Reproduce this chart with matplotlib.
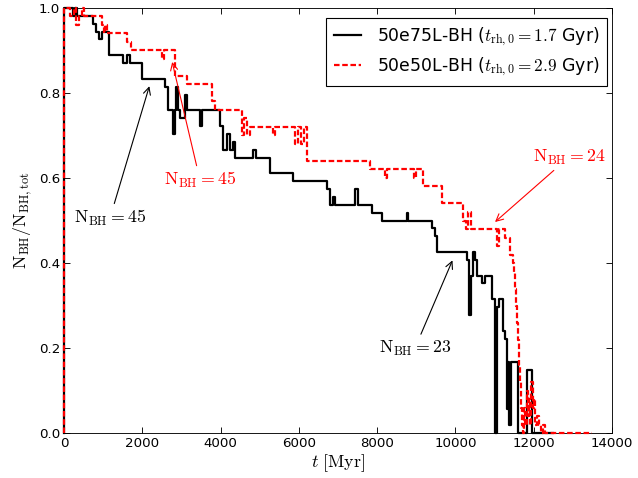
import matplotlib
matplotlib.use("Agg")
import matplotlib.pyplot as plt

# black-hole counts (step data)
t_75 = [0, 5, 230, 270, 320, 750, 818, 903, 963, 1158, 1516, 1610, 1686, 1985,
        2580, 2657, 2785, 2840, 2862, 2900, 2964, 3091, 3130, 3475, 3520, 3986,
        4062, 4164, 4241, 4318, 4369, 4829, 4905, 5263, 5851, 6720, 6796, 6873,
        6924, 7435, 7512, 7869, 8125, 8763, 8800, 9402, 9479, 9530, 10296, 10360,
        10399, 10450, 10500, 10552, 10680, 10760, 10935, 11012, 11055, 11114,
        11216, 11267, 11310, 11336, 11378, 11412, 11607, 11822, 11950, 12500]
n_75 = [0, 54, 53, 54, 53, 52, 51, 50, 51, 48, 47, 48, 47, 45,
        44, 41, 38, 41, 44, 41, 40, 43, 41, 39, 41, 39,
        36, 38, 36, 37, 35, 36, 35, 33, 32, 31, 29, 30,
        29, 31, 29, 28, 27, 28, 27, 26, 25, 23, 22, 15,
        20, 23, 22, 20, 19, 20, 17, 0, 16, 17,
        13, 12, 3, 9, 1, 9, 0, 8, 0, 0]
ntot_75 = 54

t_50 = [0, 5, 150, 250, 300, 380, 460, 520, 971, 1010, 1048, 1090, 1610, 1700,
        2504, 2555, 2836, 3134, 3773, 3870, 4548, 4600, 4680, 4750, 5340, 5391,
        5902, 5980, 6060, 6140, 6200, 7818, 8201, 8252, 8940, 9000, 9172, 9658,
        10194, 10260, 10330, 10400, 11055, 11110, 11267, 11395, 11460, 11500,
        11530, 11555, 11580, 11605, 11630, 11650, 11672, 11694, 11720, 11760,
        11790, 11820, 11850, 11880, 11905, 11944, 11975, 12000, 12034, 12085,
        12130, 12190, 12230, 12289, 13500]
n_50 = [0, 50, 49, 50, 48, 49, 50, 49, 48, 47, 48, 47, 46, 45,
        44, 45, 42, 41, 39, 38, 35, 37, 35, 36, 35, 36,
        34, 36, 34, 36, 32, 31, 30, 31, 30, 31, 29, 27,
        25, 24, 26, 24, 22, 24, 23, 21, 20, 19,
        17, 15, 13, 11, 8, 6, 3, 1, 0, 3,
        1, 5, 2, 4, 1, 6, 3, 4, 1, 2,
        1, 0, 1, 0, 0]
ntot_50 = 50

plt.rcParams["mathtext.fontset"] = "cm"
plt.rcParams["xtick.direction"] = "in"
plt.rcParams["ytick.direction"] = "in"
plt.rcParams["xtick.top"] = True
plt.rcParams["ytick.right"] = True
plt.rcParams["xtick.major.size"] = 5
plt.rcParams["ytick.major.size"] = 5
plt.rcParams["font.size"] = 12

fig = plt.figure(figsize=(638 / 80, 478 / 80), dpi=80)
ax = fig.add_axes([0.1003, 0.0941, 0.8589, 0.8892])

ax.step(t_75, [n / ntot_75 for n in n_75], where="post", color="black", lw=2,
        zorder=3, clip_on=False,
        label=r"50e75L-BH ($t_{\rm rh,0}=1.7$ Gyr)")
ax.step(t_50, [n / ntot_50 for n in n_50], where="post", color="red", lw=2,
        ls="--", dashes=(2.5, 1.2), zorder=3, clip_on=False,
        label=r"50e50L-BH ($t_{\rm rh,0}=2.9$ Gyr)")

ax.annotate(r"$\rm N_{BH}=45$", xy=(2197, 0.821), xytext=(1175, 0.506),
            ha="center", va="center", fontsize=16, color="black",
            arrowprops=dict(arrowstyle="->", color="black", lw=1))
ax.annotate(r"$\rm N_{BH}=45$", xy=(2751, 0.878), xytext=(3475, 0.595),
            ha="center", va="center", fontsize=16, color="red",
            arrowprops=dict(arrowstyle="->", color="red", lw=1))
ax.annotate(r"$\rm N_{BH}=24$", xy=(10969, 0.493), xytext=(12900, 0.649),
            ha="center", va="center", fontsize=16, color="red",
            arrowprops=dict(arrowstyle="->", color="red", lw=1))
ax.annotate(r"$\rm N_{BH}=23$", xy=(9947, 0.411), xytext=(8968, 0.2),
            ha="center", va="center", fontsize=16, color="black",
            arrowprops=dict(arrowstyle="->", color="black", lw=1))

ax.set_xlim(0, 14000)
ax.set_ylim(0, 1.0)
ax.set_xlabel(r"$t\ [\rm Myr]$", fontsize=16, labelpad=2)
ax.set_ylabel(r"$\rm N_{BH}/N_{BH,tot}$", fontsize=16, labelpad=4)
ax.legend(loc="upper right", bbox_to_anchor=(0.991, 0.977), borderaxespad=0,
          fontsize=15.5, fancybox=False, framealpha=1, edgecolor="black",
          handlelength=1.6, handletextpad=0.9, borderpad=0.45,
          labelspacing=0.45)

fig.savefig("out.png", dpi=80)
